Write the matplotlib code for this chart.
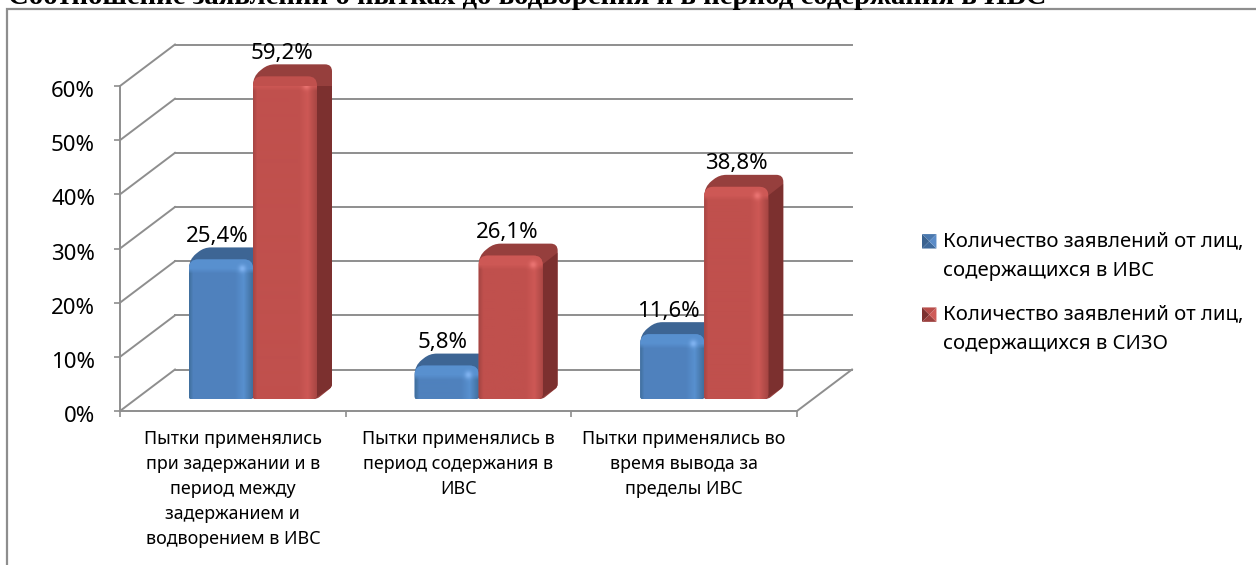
# -*- coding: utf-8 -*-
"""
Bar chart drawn the old 3D spreadsheet way, on a flat axis
"""

import numpy as np
import matplotlib
matplotlib.use('Agg')
import matplotlib.pyplot as plt
from matplotlib.legend_handler import HandlerBase
from matplotlib.patches import PathPatch, Patch, Polygon, Rectangle
from matplotlib.path import Path
from matplotlib.transforms import ScaledTranslation

## Data
title = 'Соотношение заявлений о пытках до водворения и в период содержания в ИВС'
categories = ['Пытки применялись\nпри задержании и в\nпериод между\nзадержанием и\nводворением в ИВС',
              'Пытки применялись в\nпериод содержания в\nИВС',
              'Пытки применялись во\nвремя вывода за\nпределы ИВС']
series_names = ['Количество заявлений от лиц,\nсодержащихся в ИВС',
                'Количество заявлений от лиц,\nсодержащихся в СИЗО']
ivs_values = [25.4, 5.8, 11.6]
sizo_values = [59.2, 26.1, 38.8]
value_labels_ivs = ['25,4%', '5,8%', '11,6%']
value_labels_sizo = ['59,2%', '26,1%', '38,8%']
y_ticks = [0, 10, 20, 30, 40, 50, 60]
y_tick_labels = ['0%', '10%', '20%', '30%', '40%', '50%', '60%']

FONT = 'Noto Sans'
GRID = '#8e8e8e'
W, H = 1256, 565

# axes sits on the front plane of the box
fig = plt.figure(figsize=(W/100, H/100), dpi=100)
ax = fig.add_axes([120/W, 1 - 411/H, 677/W, 325/H])
ax.set_xlim(0, 3)
ax.set_ylim(0, 60)
px_x = 677/3      # pixels per category
px_y = 325/60     # pixels per percent
wall_dx = 55/px_x
wall_dy = 41.5/px_y


def rounded(pts, r):
    # closed polygon with rounded corners, r in pixels for each vertex
    pts = np.array(pts, dtype=float)
    scale = np.array([px_x, px_y])
    verts, codes = [], []
    n = len(pts)
    for k in range(n):
        p, prev, nxt = pts[k], pts[k-1], pts[(k+1) % n]
        d1 = (prev - p)*scale
        d2 = (nxt - p)*scale
        r1 = min(r[k], np.hypot(*d1)/2)
        r2 = min(r[k], np.hypot(*d2)/2)
        a = p + d1/np.hypot(*d1)*r1/scale
        b = p + d2/np.hypot(*d2)*r2/scale
        verts += [a, p, b]
        codes += [Path.MOVETO if k == 0 else Path.LINETO, Path.CURVE3, Path.CURVE3]
    verts.append(verts[0])
    codes.append(Path.CLOSEPOLY)
    return Path(verts, codes)


def front_image(n_y, n_x, base, light, dark, spot):
    # shading of the bevelled front face
    u = np.linspace(0, 1, n_x)
    v = np.arange(n_y)
    img = np.zeros((n_y, n_x, 3))
    for c in range(3):
        col = np.interp(u, [0, 0.06, 0.2, 0.72, 0.86, 1], [dark[c], base[c], base[c], base[c], light[c], dark[c]])
        band = np.interp(v, [0, 9, 14], [1, 1, 0])[:, None]
        img[:, :, c] = col*(1 - band) + light[c]*band
    uu, vv = np.meshgrid(u*n_x, v)
    blob = np.exp(-((uu - 0.84*n_x)**2 + (vv - 9)**2)/14.0)[:, :, None]
    img = img*(1 - blob) + np.array(spot)*blob
    return img


def draw_bar(x0, value, front, top, side, light, dark, spot, z):
    width = 64/px_x
    dx, dy = 15/px_x, 12/px_y
    base = 12/px_y
    y_top = value + base + 2/px_y
    x1 = x0 + width
    outline = rounded([(x0, base), (x0, y_top), (x0 + dx, y_top + dy), (x1 + dx, y_top + dy),
                       (x1 + dx, base + dy), (x1, base)], [3, 9, 7, 7, 3, 3])
    back = PathPatch(outline, fc=top, ec='none', zorder=z, clip_on=False)
    ax.add_patch(back)
    side_face = Polygon([(x1 - 3/px_x, base), (x1 + dx, base + dy), (x1 + dx, y_top + dy - 9/px_y),
                         (x1 - 3/px_x, y_top - 11/px_y)], fc=side, ec='none', zorder=z + 0.1)
    ax.add_patch(side_face)
    side_face.set_clip_path(back)
    face = PathPatch(rounded([(x0, base), (x0, y_top), (x1, y_top), (x1, base)], [2, 9, 9, 5]),
                     fc=front, ec='none', zorder=z + 0.2, clip_on=False)
    ax.add_patch(face)
    n_y = int(round((y_top - base)*px_y))
    im = ax.imshow(front_image(n_y, 64, front, light, dark, spot), extent=[x0, x1, base, y_top],
                   aspect='auto', zorder=z + 0.3, interpolation='bilinear')
    im.set_clip_path(face)
    return y_top + dy


def rgb(h):
    return list(matplotlib.colors.to_rgb(h))


class BevelHandler(HandlerBase):
    # small square with four shaded sides, like the legend keys of the chart
    def create_artists(self, legend, orig, xd, yd, w, h, fs, trans):
        cols = orig.get_gid().split(',')
        s = 10.4
        x0 = -xd
        y0 = -yd + h - s*0.95 + 10.8
        c = (x0 + s/2, y0 + s/2)
        corners = [(x0, y0), (x0 + s, y0), (x0 + s, y0 + s), (x0, y0 + s)]
        arts = []
        for k, col in zip(range(4), cols):
            tri = Polygon([corners[k], corners[(k+1) % 4], c], fc=col, ec='none', transform=trans)
            arts.append(tri)
        return arts


## Box: walls, floor and grid
for y in y_ticks:
    ax.plot([0, wall_dx], [y, y + wall_dy], color=GRID, lw=1.4, clip_on=False, zorder=1)
    ax.plot([wall_dx, 3 + wall_dx], [y + wall_dy, y + wall_dy], color=GRID, lw=1.4, clip_on=False, zorder=1)
ax.plot([3, 3 + wall_dx], [0, wall_dy], color=GRID, lw=1.4, clip_on=False, zorder=1)

## Bars
ivs_colors = dict(front=rgb('#4f81bd'), top='#3d6594', side='#345a86', light=rgb('#5890cf'),
                  dark=rgb('#41709f'), spot=rgb('#7fb2f0'))
sizo_colors = dict(front=rgb('#c0504d'), top='#963f3d', side='#7c302f', light=rgb('#cd5855'),
                   dark=rgb('#a84644'), spot=rgb('#ea7472'))
sizo_label_shift = [-3, -3, 0]
for i in range(3):
    x_blue = i + 69/px_x
    x_red = x_blue + 64/px_x
    top_blue = draw_bar(x_blue, ivs_values[i], z=3, **ivs_colors)
    top_red = draw_bar(x_red, sizo_values[i], z=4, **sizo_colors)
    ax.annotate(value_labels_ivs[i], (x_blue + 32/px_x, top_blue), xytext=(-4, 11), textcoords='offset pixels',
                ha='center', va='center', fontsize=16, family=FONT, color='black', zorder=8,
                annotation_clip=False)
    ax.annotate(value_labels_sizo[i], (x_red + 32/px_x, top_red), xytext=(sizo_label_shift[i], 11),
                textcoords='offset pixels', ha='center', va='center', fontsize=16, family=FONT,
                color='black', zorder=8, annotation_clip=False)
ax.set_xlim(0, 3)
ax.set_ylim(0, 60)

## Axes
for name in ['top', 'right']:
    ax.spines[name].set_visible(False)
for name in ['left', 'bottom']:
    ax.spines[name].set_color(GRID)
    ax.spines[name].set_linewidth(1.4)
ax.patch.set_alpha(0)
ax.set_yticks(y_ticks)
ax.set_yticklabels(y_tick_labels, family=FONT, fontsize=16)
ax.set_xticks([0, 1, 2, 3])
ax.set_xticklabels([])
ax.tick_params(axis='both', which='major', color=GRID, length=4, width=1.2)
ax.tick_params(axis='y', pad=14)
ax.set_xticks([0.5, 1.5, 2.5], minor=True)
ax.set_xticklabels(categories, minor=True, family=FONT, fontsize=12.9, linespacing=1.5)
ax.tick_params(axis='x', which='minor', length=0, pad=14)
# labels sit a little under their ticks, tick_params resets this so it comes last
for lab in ax.get_yticklabels():
    lab.set_transform(lab.get_transform() + ScaledTranslation(0, -3/100, fig.dpi_scale_trans))

## Legend
key_ivs = Patch(gid='#3f6a9c,#5b8cc8,#4a78ae,#3a628f')
key_sizo = Patch(gid='#9c403e,#cf5c59,#b84d4a,#7c302f')
leg = fig.legend([key_ivs, key_sizo], series_names, handler_map={Patch: BevelHandler()},
                 loc='upper left', bbox_to_anchor=(922/W, 1 - 232/H), frameon=False,
                 prop={'family': FONT, 'size': 14.6}, handlelength=0.72, handletextpad=0.3,
                 labelspacing=1.2, borderpad=0, borderaxespad=0)
for t in leg.get_texts():
    t.set_linespacing(1.6)

## Frame and title
fig.add_artist(Rectangle((7/W, -0.05), 1.1, 1 - 9/H + 0.05, transform=fig.transFigure,
                         fc='none', ec=GRID, lw=1.6, zorder=-1))
fig.text(8/W, 1 - 4/H, title, family='Liberation Serif', weight='bold', fontsize=20.7,
         ha='left', va='baseline', color='black')

fig.savefig('out.png', dpi=100)
